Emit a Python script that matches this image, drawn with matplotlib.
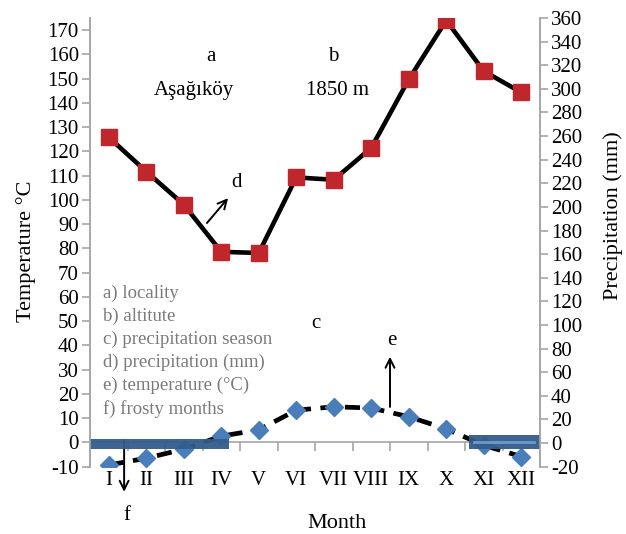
import matplotlib.pyplot as plt
import numpy as np
from matplotlib.patches import Rectangle

plt.rcParams['font.family'] = ['Liberation Serif', 'DejaVu Serif']
plt.rcParams['axes.unicode_minus'] = False

# climate data
months = ['I', 'II', 'III', 'IV', 'V', 'VI', 'VII', 'VIII', 'IX', 'X', 'XI', 'XII']
temperature = [-9.3, -6.5, -2.8, 2.6, 5.2, 13.3, 14.7, 14.2, 10.6, 5.6, -1.2, -5.8]
precipitation = [259, 230, 202, 162, 161, 225, 223, 250, 308, 358, 315, 297]
legend_lines = ['a) locality', 'b) altitute', 'c) precipitation season',
                'd) precipitation (mm)', 'e) temperature (\u00b0C)', 'f) frosty months']

x = np.arange(1, 13)
grey = '#a6a6a6'
fs = 15

fig = plt.figure(figsize=(6.26, 5.34), dpi=100)
ax = fig.add_axes([90/626, 1-466.7/534, 450/626, 448.7/534])
ax2 = ax.twinx()

# temperature (left axis)
ax.plot(x, temperature, color='black', lw=3.4, ls=(0, (3.2, 2.0)), zorder=2)
ax.plot(x, temperature, ls='none', marker='D', ms=9.5, color='#4a7ebb', zorder=3)

# frosty months bars
ax.add_patch(Rectangle((0.5, -2.9), 3.7, 4.3, facecolor='#335d8c', alpha=0.95, zorder=4))
ax.add_patch(Rectangle((10.6, -2.9), 1.9, 5.8, facecolor='#335d8c', alpha=0.95, zorder=4))
ax.plot([10.75, 12.35], [0, 0], color='#6f99c8', lw=2, zorder=5)

# zero line and category ticks
ax.axhline(0, color=grey, lw=1.2, zorder=1)
ax.vlines(np.arange(1.5, 12, 1), -3.7, 0, color=grey, lw=1.2, zorder=1)

ax.set_xlim(0.5, 12.5)
ax.set_ylim(-10, 175)
ax.set_yticks(np.arange(-10, 171, 10))
ax.set_xticks(x)
ax.set_xticklabels(months)
ax.tick_params(axis='x', length=0, pad=3, labelsize=fs)
ax.tick_params(axis='y', color=grey, length=6, width=1.2, labelsize=fs, pad=2)

# precipitation (right axis)
ax2.plot(x, precipitation, color='black', lw=3.3, marker='s', ms=11,
         mfc='#c0272d', mec='#c0272d')
ax2.set_ylim(-20, 360)
ax2.set_yticks(np.arange(-20, 361, 20))
ax2.tick_params(axis='y', color=grey, length=6, width=1.2, labelsize=fs, pad=2)

for a in (ax, ax2):
    a.spines['top'].set_visible(False)
    a.spines['bottom'].set_visible(False)
    a.spines['left'].set_color(grey)
    a.spines['right'].set_color(grey)
    a.spines['left'].set_linewidth(1.2)
    a.spines['right'].set_linewidth(1.2)

ax.set_ylabel('Temperature \u00b0C', fontsize=16)
ax.yaxis.set_label_coords(-0.12, 0.48)
ax2.set_ylabel('Precipitation (mm)', fontsize=16)
ax2.yaxis.set_label_coords(1.14, 0.56)
ax.set_xlabel('Month', fontsize=16)
ax.xaxis.set_label_coords(0.55, -0.105)

# annotations
ax.text(3.73, 159.3, 'a', fontsize=fs, ha='center', va='center')
ax.text(3.27, 145.3, 'Aşağıköy', fontsize=fs, ha='center', va='center')
ax.text(6.98, 159.3, 'b', fontsize=fs, ha='center', va='center')
ax.text(7.09, 145.3, '1850 m', fontsize=fs, ha='center', va='center')
ax.text(6.53, 49, 'c', fontsize=fs, ha='center', va='center')
ax.text(4.42, 107.3, 'd', fontsize=fs, ha='center', va='center')
ax.text(8.55, 42.2, 'e', fontsize=fs, ha='center', va='center')
ax.text(1.49, -30, 'f', fontsize=fs, ha='center', va='center', clip_on=False)

arrow = dict(arrowstyle='->', color='black', lw=1.4, mutation_scale=16)
ax.annotate('', xy=(4.23, 101.6), xytext=(3.57, 89.6), arrowprops=arrow)
ax.annotate('', xy=(8.5, 36.5), xytext=(8.5, 13.5), arrowprops=arrow)
ax.annotate('', xy=(1.41, -21.5), xytext=(1.41, 2.2), arrowprops=arrow,
            annotation_clip=False)

for i, line in enumerate(legend_lines):
    ax.text(0.85, 61.6 - i * 9.55, line, fontsize=13.5, color='#7a7a7a',
            ha='left', va='center')

fig.savefig('out.png', dpi=100)
